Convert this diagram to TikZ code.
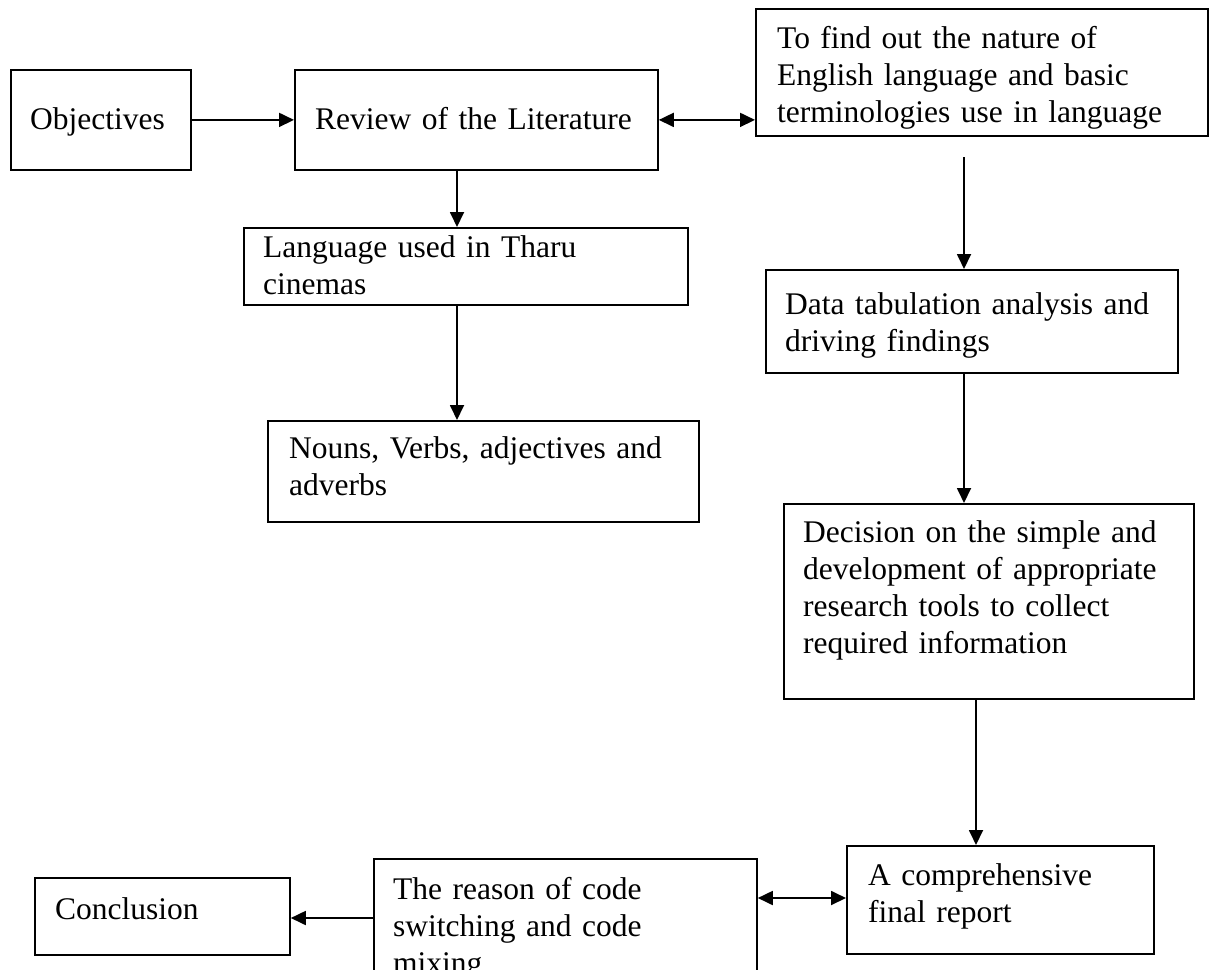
\documentclass[tikz,border=0pt]{standalone}
\usepackage{fontspec}
\setmainfont{Liberation Serif}
\usetikzlibrary{arrows.meta}
\begin{document}
\begin{tikzpicture}[x=1pt,y=-1pt,
  box/.style={draw, line width=1.8pt, inner sep=0pt, anchor=north west},
  lbl/.style={anchor=base west, inner sep=0pt, align=left, text width=460pt, font=\fontsize{31.5}{37}\selectfont},
  arr/.style={line width=1.8pt, -{Triangle[length=15pt,width=14pt]}},
  darr/.style={line width=1.8pt, {Triangle[length=15pt,width=14pt]}-{Triangle[length=15pt,width=14pt]}}]
\useasboundingbox (0,0) rectangle (1209,969);
\clip (0,0) rectangle (1209,969);
% boxes
\node[box, minimum width=180pt, minimum height=100pt] (obj) at (10,69) {};
\node[box, minimum width=363pt, minimum height=100pt] (rev) at (294,69) {};
\node[box, minimum width=452pt, minimum height=127pt] (tofind) at (755,8) {};
\node[box, minimum width=444pt, minimum height=77pt] (lang) at (243,227) {};
\node[box, minimum width=431pt, minimum height=101pt] (nouns) at (267,420) {};
\node[box, minimum width=412pt, minimum height=103pt] (data) at (765,269) {};
\node[box, minimum width=410pt, minimum height=195pt] (dec) at (783,503) {};
\node[box, minimum width=307pt, minimum height=108pt] (final) at (846,845) {};
\node[box, minimum width=255pt, minimum height=77pt] (concl) at (34,877) {};
\node[box, minimum width=383pt, minimum height=150pt] (reason) at (373,858) {};
% texts
\node[lbl] (obj-t) at (30,129) {Objectives};
\node[lbl] (rev-t) at (315,129) {Review of the Literature};
\node[lbl] (tofind-t) at (777,48) {To find out the nature of\\English language and basic\\terminologies use in language};
\node[lbl] (lang-t) at (263,257) {Language used in Tharu\\cinemas};
\node[lbl] (nouns-t) at (289,458) {Nouns, Verbs, adjectives and\\adverbs};
\node[lbl] (data-t) at (785,314) {Data tabulation analysis and\\driving findings};
\node[lbl] (dec-t) at (803,542) {Decision on the simple and\\development of appropriate\\research tools to collect\\required information};
\node[lbl] (final-t) at (868,885) {A comprehensive\\final report};
\node[lbl] (concl-t) at (55,919) {Conclusion};
\node[lbl] (reason-t) at (393,899) {The reason of code\\switching and code\\mixing};
% connectors
\coordinate (c1) at (457,0);
\coordinate (c2) at (964,157);
\coordinate (c3) at (976,0);
\coordinate (c4) at (0,918);
\coordinate (c5) at (0,898);
\draw[arr] (obj) -- (rev);
\draw[darr] (rev.east) -- (rev.east -| tofind.west);
\draw[arr] (rev.south -| c1) -- (lang.north -| c1);
\draw[arr] (lang.south -| c1) -- (nouns.north -| c1);
\draw[arr] (c2) -- (data.north -| c2);
\draw[arr] (data.south -| c2) -- (dec.north -| c2);
\draw[arr] (dec.south -| c3) -- (final.north -| c3);
\draw[arr] (reason.west |- c4) -- (concl.east |- c4);
\draw[darr] (reason.east |- c5) -- (final.west |- c5);
\end{tikzpicture}
\end{document}
